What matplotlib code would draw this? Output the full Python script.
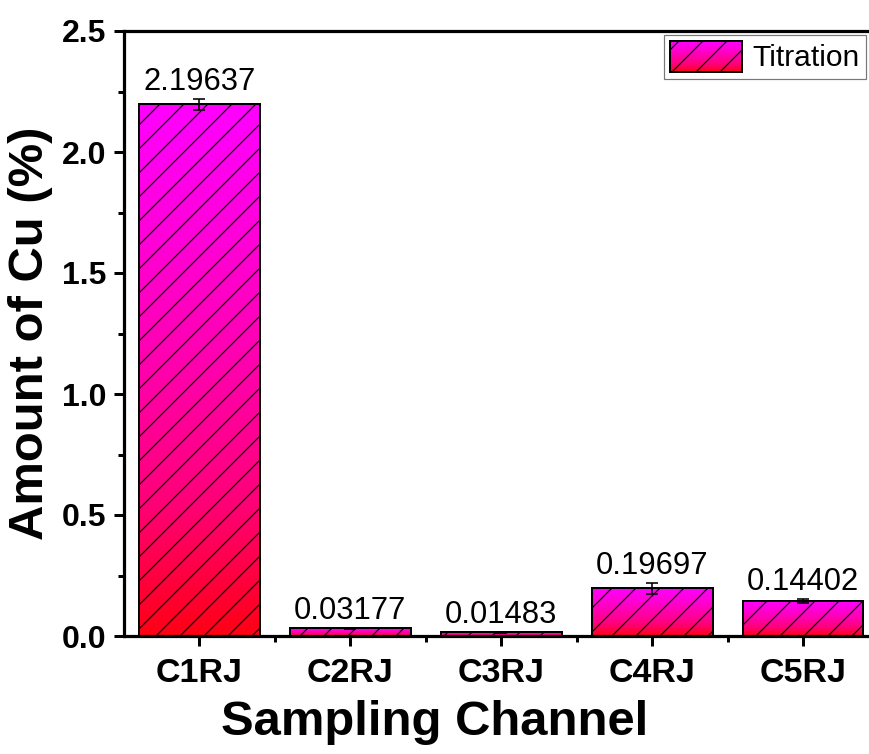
import numpy as np
import matplotlib
matplotlib.use("Agg")
import matplotlib.pyplot as plt
from matplotlib.colors import LinearSegmentedColormap
from matplotlib.legend_handler import HandlerBase
from matplotlib.patches import Rectangle

# data
channels = ["C1RJ", "C2RJ", "C3RJ", "C4RJ", "C5RJ"]
cu_amount = [2.19637, 0.03177, 0.01483, 0.19697, 0.14402]
cu_err = [0.022, 0.003, 0.002, 0.023, 0.008]
value_labels = ["2.19637", "0.03177", "0.01483", "0.19697", "0.14402"]

DPI = 144
plt.rcParams['font.family'] = ['Liberation Sans', 'DejaVu Sans']
plt.rcParams['hatch.linewidth'] = 0.6

# red at the bottom of each bar, magenta at the top
grad = LinearSegmentedColormap.from_list(
    "mr", [(0.0, "#FF0014"), (0.25, "#FF0078"), (0.5, "#FF00AC"),
           (0.75, "#FF00D8"), (1.0, "#FF00FF")])


class GradientHandler(HandlerBase):
    def create_artists(self, legend, orig_handle, xdescent, ydescent,
                       width, height, fontsize, trans):
        arts = []
        n = 30
        for i in range(n):
            r = Rectangle((-xdescent, -ydescent + height * i / n), width, height / n + 0.3,
                          facecolor=grad(i / (n - 1)), edgecolor='none', transform=trans)
            arts.append(r)
        top = Rectangle((-xdescent, -ydescent), width, height, facecolor='none',
                        edgecolor='black', hatch='//', linewidth=1.0, transform=trans)
        arts.append(top)
        return arts


fig = plt.figure(figsize=(869 / DPI, 754 / DPI), dpi=DPI)
ax = fig.add_axes([124 / 869, 118 / 754, 754.5 / 869, 605 / 754])

x = np.arange(len(channels))
bars = ax.bar(x, cu_amount, width=0.8, facecolor='none', edgecolor='black',
              linewidth=1.0, hatch='//', zorder=3, label='Titration')

gimg = np.linspace(0, 1, 256).reshape(-1, 1)
for b in bars:
    x0, y0 = b.get_x(), b.get_y()
    w, h = b.get_width(), b.get_height()
    im = ax.imshow(gimg, cmap=grad, origin='lower', aspect='auto',
                   extent=[x0, x0 + w, y0, y0 + h], zorder=2)
    im.set_clip_path(b)

ax.errorbar(x, cu_amount, yerr=cu_err, fmt='none', ecolor='black',
            elinewidth=0.8, capsize=3, capthick=0.8, zorder=4)

for xi, v, e, lab in zip(x, cu_amount, cu_err, value_labels):
    ax.annotate(lab, (xi, v + e), xytext=(0, 1), textcoords='offset points',
                ha='center', va='bottom', fontsize=15.5)

ax.set_xlim(-0.5, 4.5)
ax.set_ylim(0, 2.5)
ax.set_xticks(x)
ax.set_xticklabels(channels)
ax.set_xticks(x[:-1] + 0.5, minor=True)
ax.set_yticks([0, 0.5, 1.0, 1.5, 2.0, 2.5])
ax.set_yticklabels(["0.0", "0.5", "1.0", "1.5", "2.0", "2.5"])
ax.set_yticks(np.arange(0.25, 2.5, 0.5), minor=True)

for lab in ax.get_xticklabels() + ax.get_yticklabels():
    lab.set_fontweight('bold')
ax.tick_params(axis='both', which='major', direction='out', length=5, width=1.5,
               labelsize=16, pad=4)
ax.tick_params(axis='x', which='major', labelsize=17, pad=6)
ax.tick_params(axis='both', which='minor', direction='out', length=3, width=1.5)

for s in ['left', 'bottom', 'top', 'right']:
    ax.spines[s].set_linewidth(1.6)

ax.set_xlabel("Sampling Channel", fontsize=24.5, fontweight='bold')
ax.set_ylabel("Amount of Cu (%)", fontsize=24.5, fontweight='bold')
# the reference centres the x label on the figure, not on the (cropped) axes
ax.xaxis.set_label_coords((434.5 - 124) / 754.5, -0.106)
ax.yaxis.set_label_coords(-0.094, 0.5)

leg = ax.legend(handles=[bars], labels=['Titration'],
                handler_map={type(bars): GradientHandler()},
                loc='upper right', bbox_to_anchor=(866 / 869, 1 - 35 / 754),
                bbox_transform=fig.transFigure, fontsize=15, frameon=True,
                fancybox=False, edgecolor='#555555', borderpad=0.2,
                handlelength=2.4, handleheight=1.2, handletextpad=0.35,
                borderaxespad=0)
leg.get_frame().set_linewidth(0.6)

fig.savefig("out.png", dpi=DPI)
